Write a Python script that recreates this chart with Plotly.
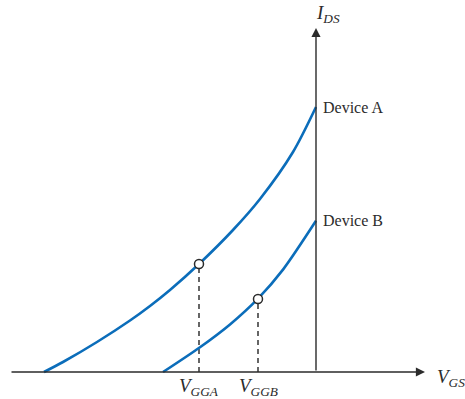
import plotly.graph_objects as go

# Device A curve (V_GS, I_DS) in arbitrary units
vgs_a = [-2.72, -2.53, -2.19, -1.86, -1.66, -1.46, -1.17, -0.83, -0.56, -0.23, 0.0]
ids_a = [0.0, 0.10, 0.30, 0.515, 0.66, 0.82, 1.08, 1.42, 1.73, 2.20, 2.65]
# Device B curve
vgs_b = [-1.53, -1.16, -0.86, -0.58, -0.33, 0.0]
ids_b = [0.0, 0.248, 0.476, 0.734, 1.024, 1.512]
# Operating points
op_x = [-1.17, -0.58]
op_y = [1.08, 0.73]
op_labels = ["<i>V</i><sub><i>GGA</i></sub>", "<i>V</i><sub><i>GGB</i></sub>"]
device_labels = ["Device A", "Device B"]

BLUE = "#0b6dba"
INK = "#2b2b2b"
FONT = "Liberation Serif, serif"

fig = go.Figure()
fig.add_trace(go.Scatter(x=vgs_a, y=ids_a, mode="lines", line=dict(color=BLUE, width=2.6, shape="spline", smoothing=0.8), hoverinfo="skip"))
fig.add_trace(go.Scatter(x=vgs_b, y=ids_b, mode="lines", line=dict(color=BLUE, width=2.6, shape="spline", smoothing=0.8), hoverinfo="skip"))

# dashed drop lines
for x, y in zip(op_x, op_y):
    fig.add_shape(type="line", x0=x, x1=x, y0=0, y1=y, line=dict(color="black", width=1.2, dash="5px,4px"), layer="below")

fig.add_trace(go.Scatter(x=op_x, y=op_y, mode="markers",
                         marker=dict(size=9, color="white", line=dict(color=INK, width=1.5)), hoverinfo="skip"))

# axes with arrows
fig.add_annotation(x=1.09, y=0, ax=-3.06, ay=0, xref="x", yref="y", axref="x", ayref="y",
                   showarrow=True, arrowhead=2, arrowsize=1.3, arrowwidth=1.4, arrowcolor=INK, text="")
fig.add_annotation(x=0, y=3.44, ax=0, ay=0, xref="x", yref="y", axref="x", ayref="y",
                   showarrow=True, arrowhead=2, arrowsize=1.3, arrowwidth=1.4, arrowcolor=INK, text="")

fig.add_annotation(x=1.19, y=-0.06, text="<i>V</i><sub><i>GS</i></sub>", showarrow=False,
                   xanchor="left", yanchor="middle", font=dict(family=FONT, size=19, color=INK))
fig.add_annotation(x=-0.02, y=3.58, text="<i>I</i><sub><i>DS</i></sub>", showarrow=False,
                   xanchor="left", yanchor="middle", font=dict(family=FONT, size=19, color=INK))

for x, lab in zip(op_x, op_labels):
    fig.add_annotation(x=x, y=-0.15, text=lab, showarrow=False, xanchor="center", yanchor="middle",
                       font=dict(family=FONT, size=19, color=INK))

for y, lab in zip([ids_a[-1], ids_b[-1]], device_labels):
    fig.add_annotation(x=0.05, y=y, text=lab, showarrow=False, xanchor="left", yanchor="middle",
                       font=dict(family=FONT, size=16, color=INK))

fig.update_layout(
    width=465, height=399, margin=dict(l=0, r=0, t=0, b=0),
    paper_bgcolor="white", plot_bgcolor="white", showlegend=False,
    xaxis=dict(range=[-3.16, 1.49], visible=False, fixedrange=True),
    yaxis=dict(range=[-0.27, 3.72], visible=False, fixedrange=True),
)
fig.write_html("out.html", config={"displayModeBar": False},
               post_script="document.body.style.margin='0';document.body.style.overflow='hidden';")
